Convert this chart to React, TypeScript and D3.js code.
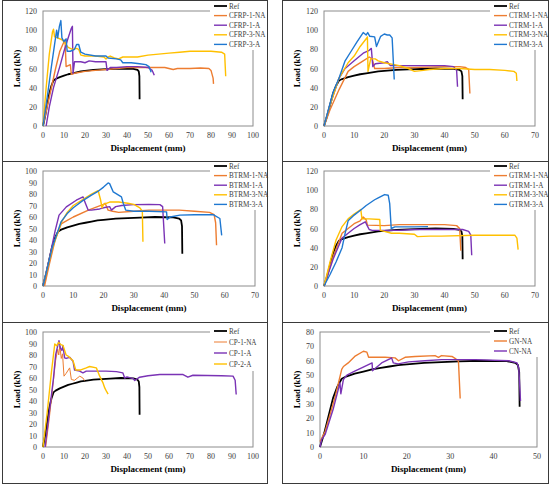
import * as d3 from "d3";

type Pt = [number, number];

// load-displacement curves, [displacement mm, load kN]
const refCurve: Pt[] = [[0,0],[1,10],[2,22],[3,34],[4,42],[5,47.5],[6,49],[8,51],[10,52.5],[12,54],[14,55],[16,56],[18,57],[20,57.5],[24,58.5],[28,59],[32,59.5],[37,60],[43,59.7],[45,58.5],[45.6,57],[45.9,52],[46,28]];

const cfrp1NA: Pt[] = [[0,0],[3,30],[6,60],[8,78],[10,88],[10.5,90],[11,62],[12,63],[13,64],[13.5,54],[15,55],[20,57],[25,58],[30,59],[35,60],[40,61],[50,61],[58,61],[62,59],[64,60],[70,60],[75,60.5],[79,60],[80,58],[81,50],[81.2,44]];
const cfrp1A: Pt[] = [[1.5,0],[3,20],[5,40],[8,62],[10,78],[12,92],[13.5,102],[14,104],[14.3,55],[15,67],[18,67],[20,66],[22,68],[25,67],[30,67],[30.5,58],[32,61],[35,61],[40,62],[45,62],[50,61],[52,58],[53,53]];
const cfrp3NA: Pt[] = [[0,0],[1.5,40],[3,75],[4.5,98],[5,101],[5.5,93],[7,92],[9,90],[10,88],[11,85],[12,82],[14,80],[16,81],[17,80],[18,74],[20,73],[25,73],[29,72],[30,70],[31,72],[32,73],[34,71],[36,70],[38,72],[45,72],[50,74],[55,75],[60,76],[65,77],[70,78],[80,78],[85,77],[86.5,75],[87,52]];
const cfrp3A: Pt[] = [[0,0],[2,30],[4,62],[5.5,85],[6.5,100],[7,92],[7.8,104],[8.5,110],[9,92],[10,88],[11,91],[11.5,78],[13,78],[15,80],[16,85],[17,85],[18,77],[19,76],[20,75],[25,73],[30,73],[31,71],[35,70],[37,69],[38,66],[42,66],[46,65],[49,64],[50.5,62],[51.5,56]];

const ctrm1NA: Pt[] = [[0,0],[2,17],[5,38],[8,57],[10,62],[13,68],[15,72],[16,70],[16.8,60],[20,60],[25,61],[30,61],[40,62],[45,62],[47,61],[48,59],[48.4,34]];
const ctrm1A: Pt[] = [[0,0],[2,22],[5,50],[7,60],[10,68],[13,76],[15,79],[15.7,81],[16.2,62],[17,65],[20,66],[21,67],[22,63],[25,63],[30,63],[40,63],[43,62],[44,58],[44.3,41]];
const ctrm3NA: Pt[] = [[0,0],[2,22],[5,50],[8,66],[10,73],[12,83],[14,91],[14.4,93],[14.6,57],[15.5,70],[17,70],[18,68],[20,66],[25,63],[28,60],[30,57],[33,58],[35,59],[40,60],[45,60],[50,59],[55,59],[60,58],[63,57],[63.8,55],[64,47]];
const ctrm3A: Pt[] = [[0,0],[3,35],[5,50],[7,68],[9,78],[11,88],[13,97.5],[14,95],[14.5,97.5],[15.2,93.6],[16.8,93],[17.4,83],[18.8,93.6],[20,96],[21,95],[21.8,95],[22.6,92],[23.3,48.5]];

const btrm1NA: Pt[] = [[0.5,0],[2,18],[4,40],[6,54],[8,57],[10,60],[15,66],[18,69],[20,71],[20.5,72],[21.5,66],[23,65],[25,64],[30,65],[35,66],[45,66],[50,65],[55,64],[56.5,62],[57,55],[57.3,35.5]];
const btrm1A: Pt[] = [[0,0],[2.2,25],[4,48],[5.3,61.6],[7.7,68.8],[11,74.6],[13.2,77.5],[14,72],[14.9,66],[16,66],[18.7,67],[20,68],[22,69],[22.6,66],[24,69],[26,70],[29.8,70.8],[35,71],[38.6,70.8],[39.5,69],[40.2,37]];
const btrm3NA: Pt[] = [[0,0],[3,32],[6,55],[8,64],[10,70],[13,75],[16,80],[18.2,83],[19,75],[19.5,68],[20,71],[22,73],[25,73],[28,72],[30,71],[32,68],[32.8,65],[33,38.4]];
const btrm3A: Pt[] = [[0,0],[3,33],[6,56],[8,63],[10,68],[13,74],[16,79],[18,82],[20,86],[21.5,89.6],[22,89],[23.2,81.8],[25.9,77.5],[26.5,72],[27.3,66],[30,65],[35,65],[40.8,64.5],[41,57.8],[42,60],[45.2,61.6],[50,62],[56.2,62],[58.4,58.7],[59,44]];

const gtrm1NA: Pt[] = [[0,0],[3,30],[6,55],[8,60],[10,65],[12,68],[13,72],[14,69],[14.4,63.5],[20,63],[25,64],[40,64],[44,63],[45,60],[45.4,36.8]];
const gtrm1A: Pt[] = [[0,0],[3,28],[6,50],[8,55],[10,60],[12,64],[13.7,67],[14.5,62],[15,59],[16,58],[25,58],[30,59],[46,59],[48,57],[48.7,53],[49,32]];
const gtrm3NA: Pt[] = [[0,0],[2,25],[4,48],[6,62],[8,70],[10,75],[12.2,79.8],[12.6,70],[15,70],[18.5,69.4],[18.7,58],[20,57],[22.4,55],[25,55],[30,54],[31,51.5],[35,52],[39,52],[50,53],[63.3,53],[64,50],[64.4,38]];
const gtrm3A: Pt[] = [[0,0],[2,12],[4,25],[6,40],[7,55],[8,68],[10,74],[12.4,79.8],[14,84],[16.8,90],[18,92],[20.1,95.4],[21.3,94.7],[21.8,86],[22.3,60],[23.5,61.7],[30,61.7],[34.5,62]];

const cp1NA: Pt[] = [[1.3,0],[3,25],[4.5,50],[6,75],[7,85],[7.5,80],[8,88],[8.7,77],[9.3,81],[10,61.6],[11,64],[12.7,68.8],[13.5,58.7],[15,58],[17.5,61.6],[19,60],[19.8,57.8]];
const cp1A: Pt[] = [[1,0],[3,30],[5,60],[6,80],[7,88],[7.6,92.5],[8.3,86],[9,84],[9.5,88],[10.3,77.5],[11,77],[12.7,78],[14.3,74.6],[15,67],[17.5,66],[19,64.5],[20.6,66],[30,66],[35,65.5],[38,64.5],[38.9,60],[40,61],[42.9,59.5],[43.7,57.8],[46,60.7],[50,62],[55.6,63],[66.7,63],[69,60.7],[71.4,62.4],[85,62],[90.5,61.6],[91.5,58],[92,45.7]];
const cp2A: Pt[] = [[0,0],[2,30],[4,65],[5.6,89.6],[6.5,88],[7.5,91],[8.5,89],[9.5,88.4],[11,80],[12,79],[14.3,75],[15.6,67],[18,67],[20.6,68.8],[22.2,70],[25.4,68.8],[27,61.6],[28.5,56],[29.4,51.4],[30.2,48.5],[31,46]];

const gnNA: Pt[] = [[0,3.7],[1.2,11],[3.5,35],[5,54],[5.4,56],[6.5,58.5],[8,63],[10,66.6],[10.8,66],[11.2,62.4],[15,62.4],[17.3,62],[18.1,60],[19.6,62.4],[21.9,63],[26.5,63.6],[27.3,62.4],[28,63.6],[30.4,63],[31.2,61.5],[31.9,59.7],[32.3,33.8]];
const cnNA: Pt[] = [[0,0],[0.4,5.3],[1.2,8.8],[3.1,27],[4.6,44.6],[4.8,37],[5.4,47],[6.2,50],[8,52.7],[9.6,55],[12,58.5],[12.1,53],[12.7,54.6],[14.2,58.5],[16.2,61.5],[16.5,62],[16.9,58.5],[18,57.8],[20.4,59.2],[24.2,60],[28,60.8],[35.8,60.8],[43.5,60],[45.4,58.5],[45.8,55],[46.2,32]];

const BLACK = "#000000";
const ORANGE = "#ED7D31";
const PURPLE = "#7A33B5";
const YELLOW = "#FFC000";
const BLUE = "#1F78D1";

interface Series { name: string; data: Pt[]; color: string; width?: number }

interface PanelSpec {
  ox: number; oy: number; w: number; h: number;
  left: number; right: number; top: number; bottom: number;
  xMax: number; xStep: number; yMax: number; yStep: number;
  legendTop: number; legendGap: number;
  series: Series[];
}

const FONT = "'Liberation Serif', 'Times New Roman', serif";

const Panel = ({ p }: { p: PanelSpec }) => {
  const x = d3.scaleLinear().domain([0, p.xMax]).range([p.left, p.right]);
  const y = d3.scaleLinear().domain([0, p.yMax]).range([p.bottom, p.top]);
  const line = d3.line<Pt>().x((d) => x(d[0])).y((d) => y(d[1]));
  const xt = d3.range(0, p.xMax + 0.001, p.xStep);
  const yt = d3.range(0, p.yMax + 0.001, p.yStep);
  const lx = 210;
  return (
    <g transform={`translate(${p.ox},${p.oy})`}>
      <rect x={0.5} y={0.5} width={p.w} height={p.h} fill="#fff" stroke="#3a3a3a" strokeWidth={1} />
      <rect x={p.left} y={p.top} width={p.right - p.left} height={p.bottom - p.top} fill="none" stroke="#8c8c8c" strokeWidth={1} />
      {yt.map((v) => (
        <text key={"y" + v} x={p.left - 6} y={y(v) + 3} textAnchor="end" fontSize={8} fontFamily={FONT} fill="#404040">{v}</text>
      ))}
      {xt.map((v) => (
        <text key={"x" + v} x={x(v)} y={p.bottom + 12} textAnchor="middle" fontSize={8} fontFamily={FONT} fill="#404040">{v}</text>
      ))}
      <g clipPath="none">
        {p.series.map((s) => (
          <path key={s.name} d={line(s.data) ?? ""} fill="none" stroke={s.color} strokeWidth={s.width ?? 1.4} strokeLinejoin="round" />
        ))}
      </g>
      <rect x={lx - 2} y={1} width={p.w - lx + 1} height={p.legendTop + p.series.length * p.legendGap - 5} fill="#fff" />
      {p.series.map((s, i) => {
        const cy = p.legendTop + i * p.legendGap;
        return (
          <g key={"l" + s.name}>
            <line x1={lx + 2} x2={lx + 15} y1={cy} y2={cy} stroke={s.color} strokeWidth={s.width ?? 1.4} />
            <text x={lx + 17} y={cy + 2.5} fontSize={7.2} fontFamily={FONT} fill="#404040">{s.name}</text>
          </g>
        );
      })}
      <text x={(p.left + p.right) / 2} y={p.bottom + 25} textAnchor="middle" fontSize={9} fontWeight="bold" fontFamily={FONT} fill="#000">Displacement (mm)</text>
      <text transform={`translate(${18},${(p.top + p.bottom) / 2}) rotate(-90)`} textAnchor="middle" fontSize={8.5} fontWeight="bold" fontFamily={FONT} fill="#000">Load (kN)</text>
    </g>
  );
};

const ref: Series = { name: "Ref", data: refCurve, color: BLACK, width: 1.8 };

const panels: PanelSpec[] = [
  { ox: 2, oy: 0, w: 265, h: 161, left: 41, right: 251, top: 11, bottom: 126, xMax: 100, xStep: 10, yMax: 120, yStep: 20, legendTop: 6, legendGap: 9.6,
    series: [ref, { name: "CFRP-1-NA", data: cfrp1NA, color: ORANGE }, { name: "CFRP-1-A", data: cfrp1A, color: PURPLE }, { name: "CFRP-3-NA", data: cfrp3NA, color: YELLOW }, { name: "CFRP-3-A", data: cfrp3A, color: BLUE }] },
  { ox: 282, oy: 0, w: 266, h: 161, left: 42, right: 253, top: 11, bottom: 126, xMax: 70, xStep: 10, yMax: 120, yStep: 20, legendTop: 6, legendGap: 9.6,
    series: [ref, { name: "CTRM-1-NA", data: ctrm1NA, color: ORANGE }, { name: "CTRM-1-A", data: ctrm1A, color: PURPLE }, { name: "CTRM-3-NA", data: ctrm3NA, color: YELLOW }, { name: "CTRM-3-A", data: ctrm3A, color: BLUE }] },
  { ox: 2, oy: 161, w: 265, h: 161, left: 41, right: 253, top: 10, bottom: 125, xMax: 70, xStep: 10, yMax: 100, yStep: 10, legendTop: 5, legendGap: 9.6,
    series: [ref, { name: "BTRM-1-NA", data: btrm1NA, color: ORANGE }, { name: "BTRM-1-A", data: btrm1A, color: PURPLE }, { name: "BTRM-3-NA", data: btrm3NA, color: YELLOW }, { name: "BTRM-3-A", data: btrm3A, color: BLUE }] },
  { ox: 282, oy: 161, w: 266, h: 161, left: 42, right: 253, top: 10, bottom: 125, xMax: 70, xStep: 10, yMax: 120, yStep: 20, legendTop: 5, legendGap: 9.6,
    series: [ref, { name: "GTRM-1-NA", data: gtrm1NA, color: ORANGE }, { name: "GTRM-1-A", data: gtrm1A, color: PURPLE }, { name: "GTRM-3-NA", data: gtrm3NA, color: YELLOW }, { name: "GTRM-3-A", data: gtrm3A, color: BLUE }] },
  { ox: 2, oy: 322, w: 265, h: 161, left: 41, right: 251, top: 10, bottom: 125, xMax: 100, xStep: 10, yMax: 100, yStep: 10, legendTop: 9, legendGap: 11,
    series: [ref, { name: "CP-1-NA", data: cp1NA, color: ORANGE, width: 1 }, { name: "CP-1-A", data: cp1A, color: PURPLE }, { name: "CP-2-A", data: cp2A, color: YELLOW }] },
  { ox: 282, oy: 322, w: 266, h: 161, left: 38, right: 255, top: 10, bottom: 125, xMax: 50, xStep: 10, yMax: 80, yStep: 10, legendTop: 9, legendGap: 10,
    series: [ref, { name: "GN-NA", data: gnNA, color: ORANGE }, { name: "CN-NA", data: cnNA, color: PURPLE }] },
];

export default function App() {
  return (
    <svg width={550} height={484} style={{ position: "absolute", left: 0, top: 0, background: "#fff" }}>
      {panels.map((p, i) => <Panel key={i} p={p} />)}
    </svg>
  );
}
